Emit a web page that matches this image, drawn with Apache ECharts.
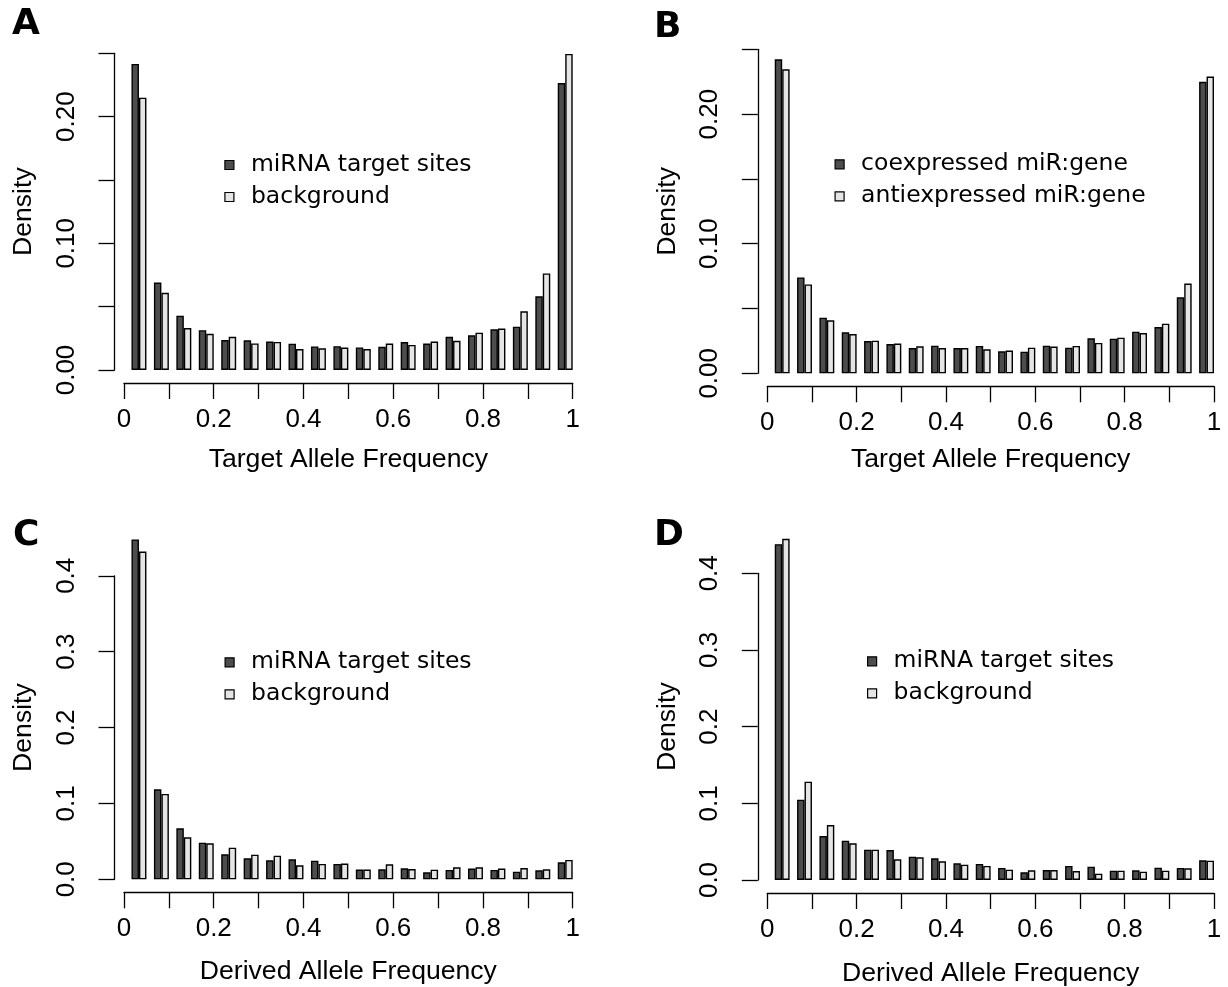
<!DOCTYPE html>
<html>
<head>
<meta charset="utf-8">
<script src="https://cdn.jsdelivr.net/npm/echarts@6/dist/echarts.min.js"></script>
<style>
html,body{margin:0;padding:0;background:#ffffff;}
#chart{width:1228px;height:987px;}
</style>
</head>
<body>
<div id="chart"></div>
<script>
// ---------------- data ----------------
const bins = ['0-0.05','0.05-0.1','0.1-0.15','0.15-0.2','0.2-0.25','0.25-0.3','0.3-0.35','0.35-0.4','0.4-0.45','0.45-0.5',
              '0.5-0.55','0.55-0.6','0.6-0.65','0.65-0.7','0.7-0.75','0.75-0.8','0.8-0.85','0.85-0.9','0.9-0.95','0.95-1'];

const aTarget     = [0.2416,0.0690,0.0429,0.0314,0.0237,0.0234,0.0225,0.0208,0.0186,0.0188,0.0178,0.0183,0.0221,0.0209,0.0262,0.0274,0.0321,0.0342,0.0582,0.2265];
const aBackground = [0.2150,0.0610,0.0331,0.0286,0.0262,0.0210,0.0222,0.0165,0.0171,0.0177,0.0165,0.0209,0.0198,0.0225,0.0230,0.0295,0.0327,0.0463,0.0762,0.2495];

const bCoexpressed   = [0.2423,0.0740,0.0429,0.0316,0.0249,0.0226,0.0195,0.0213,0.0195,0.0211,0.0170,0.0167,0.0213,0.0198,0.0270,0.0267,0.0321,0.0357,0.0586,0.2249];
const bAntiexpressed = [0.2346,0.0686,0.0409,0.0303,0.0252,0.0229,0.0208,0.0195,0.0195,0.0185,0.0175,0.0198,0.0206,0.0211,0.0234,0.0275,0.0311,0.0383,0.0692,0.2290];

const cTarget     = [0.448,0.1186,0.0672,0.0483,0.0330,0.0277,0.0250,0.0264,0.0246,0.0202,0.0128,0.0132,0.0145,0.0092,0.0123,0.0141,0.0123,0.0101,0.0119,0.0224];
const cBackground = [0.432,0.1125,0.0554,0.0475,0.0417,0.0325,0.0312,0.0185,0.0202,0.0207,0.0128,0.0198,0.0136,0.0127,0.0158,0.0158,0.0141,0.0149,0.0132,0.0255];

const dTarget     = [0.438,0.1048,0.0574,0.0513,0.0396,0.0391,0.0304,0.0283,0.0217,0.0209,0.0157,0.0100,0.0130,0.0183,0.0174,0.0122,0.0126,0.0161,0.0157,0.0257];
const dBackground = [0.445,0.1283,0.0717,0.0478,0.0396,0.0270,0.0296,0.0243,0.0200,0.0183,0.0135,0.0126,0.0130,0.0117,0.0083,0.0122,0.0109,0.0122,0.0152,0.0252];

const namesSites = ['miRNA target sites','background'];
const namesExpr  = ['coexpressed miR:gene','antiexpressed miR:gene'];

const xTickLabels    = ['0','','0.2','','0.4','','0.6','','0.8','','1'];
const yTickLabelsTop = ['0.00','','0.10','','0.20',''];
const yTickLabelsBot = ['0.0','0.1','0.2','0.3','0.4'];

const panelLetters = ['A','B','C','D'];
const xTitles = ['Target Allele Frequency','Target Allele Frequency','Derived Allele Frequency','Derived Allele Frequency'];
const yTitle = 'Density';

// ---------------- layout ----------------
const panels = [
  {letter:0, dark:aTarget, light:aBackground, names:namesSites, yMax:0.25, yStep:0.05, yLabels:yTickLabelsTop,
   x0:124, x1:572.7, yTop:53.3, yBase:370, xNameGap:63, lgLeft:224.3, lgTop:153, ltLeft:12, ltTop:7},
  {letter:1, dark:bCoexpressed, light:bAntiexpressed, names:namesExpr, yMax:0.25, yStep:0.05, yLabels:yTickLabelsTop,
   x0:767.3, x1:1214, yTop:49.3, yBase:373.3, xNameGap:60, lgLeft:834.5, lgTop:152.3, ltLeft:654, ltTop:10},
  {letter:2, dark:cTarget, light:cBackground, names:namesSites, yMax:0.4, yStep:0.1, yLabels:yTickLabelsBot,
   x0:124, x1:572.7, yTop:575.8, yBase:879.3, xNameGap:66, lgLeft:224.5, lgTop:650.3, ltLeft:13, ltTop:518},
  {letter:3, dark:dTarget, light:dBackground, names:namesSites, yMax:0.4, yStep:0.1, yLabels:yTickLabelsBot,
   x0:767.3, x1:1214, yTop:573.3, yBase:880, xNameGap:67, lgLeft:867, lgTop:649.3, ltLeft:654, ltTop:518}
];

const AXIS_FONT = 'Liberation Sans, Arial, Helvetica, sans-serif';
const LEGEND_FONT = 'DejaVu Sans, sans-serif';
const LETTER_FONT = 'DejaVu Sans, sans-serif';
const DARK = '#4d4d4d';
const LIGHT = '#e5e5e5';
const lineStyle = {color:'#000', width:1.3};

const option = {
  animation:false,
  backgroundColor:'#ffffff',
  title:[], legend:[], grid:[], xAxis:[], yAxis:[], series:[]
};

panels.forEach((p, i) => {
  const w = p.x1 - p.x0;
  const h = p.yBase - p.yTop;
  const band = w / bins.length;
  const gAxis = 2*i, gBar = 2*i+1;

  option.grid.push({left:p.x0, top:p.yTop, width:w, height:h, containLabel:false, outerBoundsMode:'none'});
  option.grid.push({left:p.x0 + band/6, top:p.yTop, width:w, height:h, containLabel:false, outerBoundsMode:'none'});

  // visible axes
  option.xAxis.push({
    type:'value', gridIndex:gAxis, min:0, max:1, interval:0.1, position:'bottom', offset:13,
    axisLine:{show:true, onZero:false, lineStyle:lineStyle},
    axisTick:{show:true, length:16, inside:false, lineStyle:lineStyle},
    splitLine:{show:false},
    axisLabel:{show:true, margin:24, fontSize:26, fontFamily:AXIS_FONT, color:'#000',
      formatter:(v) => xTickLabels[Math.round(v/0.1)] ?? ''},
    name:xTitles[i], nameLocation:'middle', nameGap:p.xNameGap, nameMoveOverlap:false,
    nameTextStyle:{fontSize:26.6, fontFamily:AXIS_FONT, color:'#000'}
  });
  option.yAxis.push({
    type:'value', gridIndex:gAxis, min:0, max:p.yMax, interval:p.yStep, position:'left', offset:9.5,
    axisLine:{show:true, onZero:false, lineStyle:lineStyle},
    axisTick:{show:true, length:16, inside:false, lineStyle:lineStyle},
    splitLine:{show:false},
    axisLabel:{show:true, rotate:90, margin:35, fontSize:26, fontFamily:AXIS_FONT, color:'#000',
      formatter:(v) => p.yLabels[Math.round(v/p.yStep)] ?? ''},
    name:yTitle, nameLocation:'middle', nameGap:77, nameRotate:90, nameMoveOverlap:false,
    nameTextStyle:{fontSize:26.6, fontFamily:AXIS_FONT, color:'#000'}
  });

  // hidden axes for bars
  option.xAxis.push({type:'category', gridIndex:gBar, data:bins, show:false, boundaryGap:true,
    axisLine:{onZero:false}});
  option.yAxis.push({type:'value', gridIndex:gBar, min:0, max:p.yMax, show:false, splitLine:{show:false},
    axisLine:{onZero:false}});

  const mk = (name, data, color) => ({
    type:'bar', name:name, data:data, xAxisIndex:gBar, yAxisIndex:gBar,
    barGap:'0%', barCategoryGap:'33.333%', clip:false,
    itemStyle:{color:color, borderColor:'#000', borderWidth:1.4},
    emphasis:{disabled:true}
  });
  option.series.push(mk(p.names[0], p.dark, DARK));
  option.series.push(mk(p.names[1], p.light, LIGHT));

  option.legend.push({
    orient:'vertical', left:p.lgLeft, top:p.lgTop, padding:0,
    itemWidth:9, itemHeight:9, itemGap:8, icon:'rect', selectedMode:false,
    data:[{name:p.names[0], itemStyle:{color:DARK, borderColor:'#000', borderWidth:1.2}},
          {name:p.names[1], itemStyle:{color:LIGHT, borderColor:'#000', borderWidth:1.2}}],
    textStyle:{fontFamily:LEGEND_FONT, fontSize:23.5, color:'#000', lineHeight:24, padding:[0,0,0,12]}
  });

  option.title.push({
    text:panelLetters[p.letter], left:p.ltLeft, top:p.ltTop, padding:0,
    textStyle:{fontSize:36, fontWeight:'bold', fontFamily:LETTER_FONT, color:'#000'}
  });
});

const chart = echarts.init(document.getElementById('chart'), null, {renderer:'canvas'});
chart.setOption(option);
</script>
</body>
</html>
